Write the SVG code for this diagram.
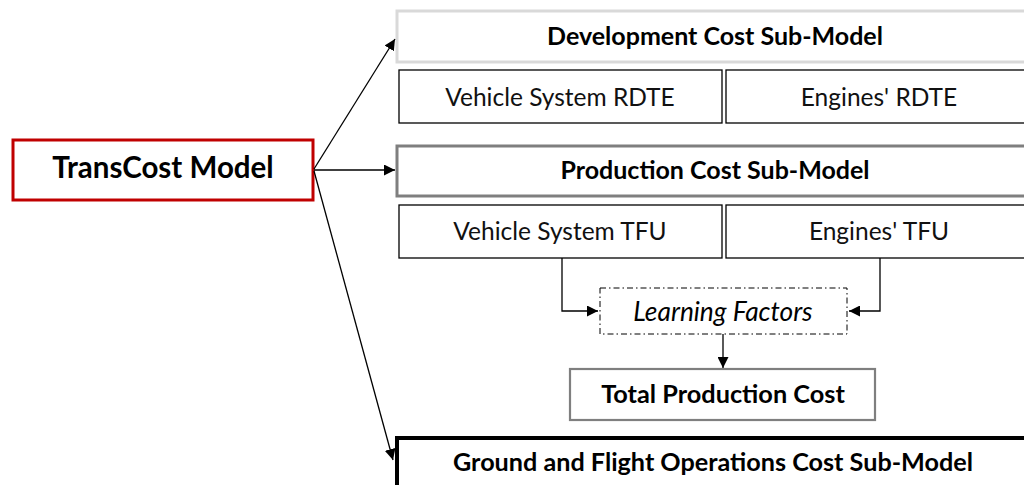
<svg xmlns="http://www.w3.org/2000/svg" width="1024" height="485" viewBox="0 0 1024 485">
  <defs>
    <marker id="arrow" viewBox="0 0 10 10" refX="10" refY="5" markerWidth="11" markerHeight="11" markerUnits="userSpaceOnUse" orient="auto">
      <path d="M0,0 L10,5 L0,10 z" fill="#000"/>
    </marker>
    <style>
      text { font-family: Lato, "Open Sans", "Liberation Sans", sans-serif; fill: #000; text-anchor: middle; }
      .b { font-weight: bold; }
      .r { font-size: 24.5px; fill: #111; }
      .sub { fill: #fff; stroke: #000; stroke-width: 1.3; }
      .conn { fill: none; stroke: #000; stroke-width: 1.3; marker-end: url(#arrow); }
    </style>
  </defs>
  <rect width="1024" height="485" fill="#fff"/>

  <g id="transcost">
    <rect x="13" y="140" width="300" height="60" fill="#fff" stroke="#c00000" stroke-width="3"/>
    <text x="163" y="178" class="b" font-size="29.5">TransCost Model</text>
  </g>

  <g id="development">
    <rect x="397" y="11" width="640" height="51" fill="#fff" stroke="#d9d9d9" stroke-width="3"/>
    <text x="715" y="45" class="b" font-size="25">Development Cost Sub-Model</text>
  </g>
  <g id="vehicle-rdte">
    <rect class="sub" x="399" y="70" width="323" height="53"/>
    <text x="560" y="106" class="r">Vehicle System RDTE</text>
  </g>
  <g id="engines-rdte">
    <rect class="sub" x="726" y="70" width="310" height="53"/>
    <text x="879" y="106" class="r">Engines' RDTE</text>
  </g>

  <g id="production">
    <rect x="397" y="146" width="640" height="50" fill="#fff" stroke="#7f7f7f" stroke-width="3"/>
    <text x="715" y="179" class="b" font-size="25">Production Cost Sub-Model</text>
  </g>
  <g id="vehicle-tfu">
    <rect class="sub" x="399" y="205" width="323" height="53"/>
    <text x="560" y="240" class="r">Vehicle System TFU</text>
  </g>
  <g id="engines-tfu">
    <rect class="sub" x="726" y="205" width="310" height="53"/>
    <text x="879" y="240" class="r">Engines' TFU</text>
  </g>

  <g id="learning-factors">
    <rect x="600" y="288" width="247" height="46" fill="#fff" stroke="#000" stroke-width="1" stroke-dasharray="6 3 1.5 3"/>
    <text x="723" y="321" font-size="26.3" font-style="italic" fill="#333">Learning Factors</text>
  </g>

  <g id="total-production">
    <rect x="570" y="369" width="305" height="51" fill="#fff" stroke="#7f7f7f" stroke-width="2.2"/>
    <text x="723" y="403" class="b" font-size="25.3">Total Production Cost</text>
  </g>

  <g id="operations">
    <rect x="397" y="438" width="640" height="60" fill="#fff" stroke="#000" stroke-width="4"/>
    <text x="713" y="471" class="b" font-size="25.2">Ground and Flight Operations Cost Sub-Model</text>
  </g>

  <g id="connectors">
    <path class="conn" d="M314,169 L395,39"/>
    <path class="conn" d="M314,170 L395,170"/>
    <path class="conn" d="M314,171 L393,460"/>
    <path class="conn" d="M562,258 L562,311 L598,311"/>
    <path class="conn" d="M880,258 L880,311 L849,311"/>
    <path class="conn" d="M723,334 L723,368"/>
  </g>
</svg>
